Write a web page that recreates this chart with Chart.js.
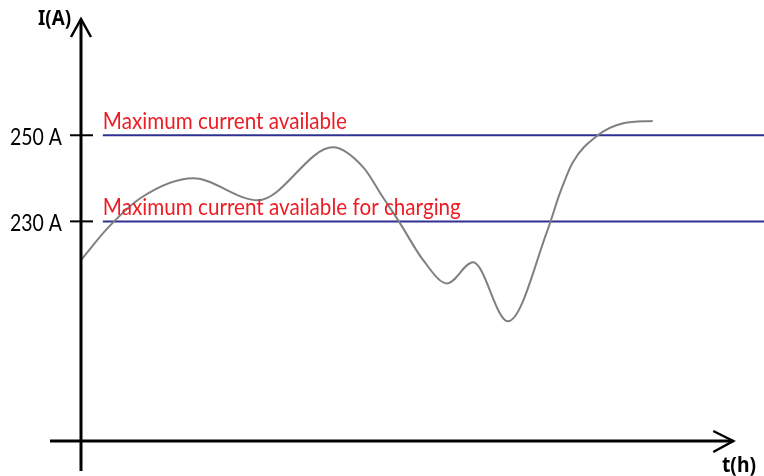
<!DOCTYPE html>
<html>
<head>
<meta charset="utf-8">
<script src="https://cdn.jsdelivr.net/npm/chart.js@4"></script>
<style>
  html, body { margin:0; padding:0; background:#fff; }
  #wrap { width:764px; height:476px; }
</style>
</head>
<body>
<div id="wrap"><canvas id="chartCurrent"></canvas></div>
<script>
// current curve (t in hours, I in A)
const timeHours = [0, 0.40, 0.89, 1.64, 2.59, 3.69, 4.13, 4.42, 4.67, 5.01, 5.36, 5.74, 6.25, 6.84, 7.01, 7.20, 7.55, 7.94, 8.37];
const currentA  = [221.0, 228.6, 235.6, 240.0, 234.9, 247.2, 242.6, 235.6, 229.6, 221.0, 215.6, 220.5, 206.8, 228.4, 236.5, 243.7, 249.8, 252.8, 253.3];

// limit lines
const limitValues = [250, 230];
const limitLabels = ['Maximum current available', 'Maximum current available for charging'];
const limitStart = 0.32;
const limitEnd = 10;

const tickLabels = ['250 A', '230 A'];
const yAxisTitle = 'I(A)';
const xAxisTitle = 't(h)';

const datasets = [{
  data: timeHours.map((t, i) => ({ x: t, y: currentA[i] })),
  borderColor: '#808080',
  borderWidth: 2,
  pointRadius: 0,
  cubicInterpolationMode: 'monotone',
  fill: false
}];
limitValues.forEach(v => {
  datasets.push({
    data: [{ x: limitStart, y: v }, { x: limitEnd, y: v }],
    borderColor: '#2e3192',
    borderWidth: 2,
    pointRadius: 0,
    fill: false
  });
});

// write text, squeezed horizontally to a target width when given
function fitText(ctx, txt, x, y, font, width) {
  ctx.save();
  ctx.font = font;
  const w = ctx.measureText(txt).width;
  ctx.translate(x, y);
  if (width) ctx.scale(width / w, 1);
  ctx.fillText(txt, 0, 0);
  ctx.restore();
}

const axesPlugin = {
  id: 'axesPlugin',
  afterDraw(chart) {
    const ctx = chart.ctx;
    const xs = chart.scales.x, ys = chart.scales.y;
    const x0 = xs.getPixelForValue(0);
    const yBase = ys.getPixelForValue(ys.min);
    const yTop = ys.getPixelForValue(ys.max);
    const xEnd = xs.getPixelForValue(9.55);

    ctx.save();
    ctx.strokeStyle = '#000';
    ctx.lineWidth = 3;
    ctx.lineCap = 'butt';
    // y axis
    ctx.beginPath();
    ctx.moveTo(x0, yTop);
    ctx.lineTo(x0, 471);
    ctx.stroke();
    // x axis
    ctx.beginPath();
    ctx.moveTo(50, yBase);
    ctx.lineTo(xEnd, yBase);
    ctx.stroke();
    // arrow heads
    ctx.lineWidth = 2.5;
    ctx.beginPath();
    ctx.moveTo(x0 - 10, yTop + 18);
    ctx.lineTo(x0, yTop);
    ctx.lineTo(x0 + 10, yTop + 18);
    ctx.stroke();
    ctx.beginPath();
    ctx.moveTo(xEnd - 20, yBase - 10);
    ctx.lineTo(xEnd, yBase);
    ctx.lineTo(xEnd - 20, yBase + 11);
    ctx.stroke();

    // ticks + labels
    ctx.lineWidth = 2;
    ctx.fillStyle = '#000';
    ctx.textBaseline = 'alphabetic';
    limitValues.forEach((v, i) => {
      const py = ys.getPixelForValue(v);
      ctx.beginPath();
      ctx.moveTo(x0 - 11, py);
      ctx.lineTo(x0 + 12, py);
      ctx.stroke();
      fitText(ctx, tickLabels[i], 10, py + 9.5, '24px Lato', 52);
    });

    // limit line labels
    ctx.fillStyle = '#ed1c24';
    const lx = xs.getPixelForValue(limitStart);
    fitText(ctx, limitLabels[0], lx, ys.getPixelForValue(limitValues[0]) - 6.5, '24px Lato', 244);
    fitText(ctx, limitLabels[1], lx, ys.getPixelForValue(limitValues[1]) - 6.5, '24px Lato', 358);

    // axis titles
    ctx.fillStyle = '#000';
    fitText(ctx, yAxisTitle, 38, 25, 'bold 21px "Noto Sans"', 33);
    fitText(ctx, xAxisTitle, 722, 472, 'bold 21px "Noto Sans"', 34);
    ctx.restore();
  }
};

new Chart(document.getElementById('chartCurrent').getContext('2d'), {
  type: 'line',
  data: { datasets },
  options: {
    responsive: true,
    maintainAspectRatio: false,
    animation: false,
    layout: { padding: { left: 81, top: 19, right: 0, bottom: 35 } },
    plugins: { legend: { display: false }, tooltip: { enabled: false } },
    scales: {
      x: { type: 'linear', min: 0, max: 10, display: false },
      y: { type: 'linear', min: 179, max: 277, display: false }
    }
  },
  plugins: [axesPlugin]
});
</script>
</body>
</html>
